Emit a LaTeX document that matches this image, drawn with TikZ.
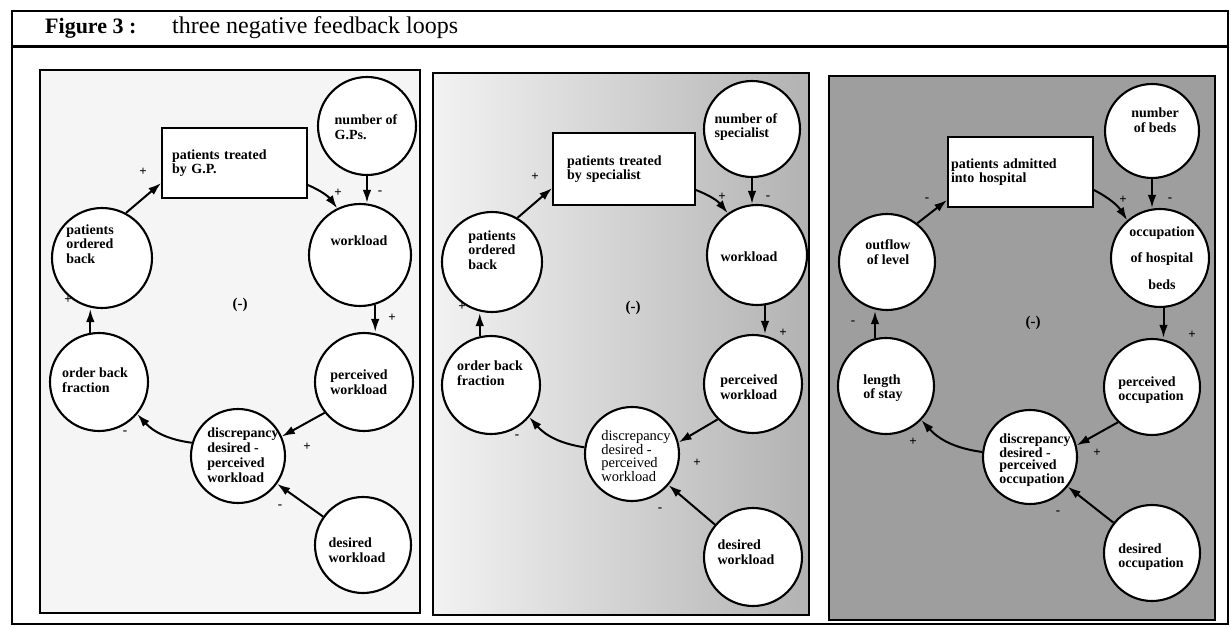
\documentclass[tikz,border=0pt]{standalone}
\usepackage{fontspec}
\setmainfont{Liberation Serif}
\usetikzlibrary{arrows.meta,calc}

\tikzset{
  fbcircle/.style={circle, draw, line width=2.1pt, fill=white, inner sep=0pt},
  fbtext/.style={inner sep=0pt, font=\bfseries\fontsize{14}{14.5}\selectfont},
  fbbox/.style={rectangle, draw, line width=1.7pt, fill=white,
    minimum width=145pt, minimum height=70pt, inner xsep=10pt, inner ysep=0pt,
    text width=125pt, align=left, font=\bfseries\fontsize{14}{14.5}\selectfont},
  link/.style={line width=2pt, -{Latex[length=13pt,width=8.5pt]}},
  sgn/.style={inner sep=0pt, font=\bfseries\fontsize{13}{13}\selectfont},
  panelframe/.style={draw, line width=1.8pt},
}

% circle variable: name, centre x, centre y, radius, text x, text y, alignment, text
\newcommand\fbnode[8]{%
  \node[fbcircle, minimum size=#4*2pt] (#1) at (#2,#3) {};
  \node[fbtext, align=#7] (#1-t) at (#5,#6) {#8};
}

\begin{document}
\begin{tikzpicture}[x=1pt,y=-1pt]
\useasboundingbox (0,0) rectangle (1231,628);

% ---- panel backgrounds ----
\fill[black!4] (40,70) rectangle (420,613);
\shade[left color=black!5, right color=black!30] (433,73) rectangle (809,615);
\fill[black!38] (829,76) rectangle (1215,620);
\draw[panelframe] (40,70) rectangle (420,613);
\draw[panelframe] (433,73) rectangle (809,615);
\draw[panelframe] (829,76) rectangle (1215,620);

% ---- outer frame and title ----
\draw[line width=2.5pt] (12,11) rectangle (1228,624);
\draw[line width=3pt] (12,47) -- (1228,47);
\node[anchor=base west, inner sep=0pt, font=\bfseries\fontsize{22}{22}\selectfont] (fig) at (45,34) {Figure 3 :};
\node[anchor=base west, inner sep=0pt, font=\fontsize{24}{24}\selectfont] (cap) at (172,34) {three negative feedback loops};

% ================= loop 1: general practitioner =================
\fbnode{gp}{367}{126}{49}{366}{127}{left}{number of\\G.Ps.}
\node[fbbox] (tr1) at (234.5,163) {patients treated\\by G.P.};
\fbnode{wl1}{360}{255}{51}{359}{241}{left}{workload}
\fbnode{pob1}{102}{258}{50}{90}{244}{left}{patients\\ordered\\back}
\fbnode{obf1}{99}{382}{49}{95}{380}{left}{order back\\fraction}
\fbnode{pw1}{364}{382}{49}{359}{382}{left}{perceived\\workload}
\node[fbcircle, minimum size=94pt] (ds1) at (238,456) {};
\node[fbtext, align=left, font=\bfseries\fontsize{14}{15}\selectfont] (ds1-t) at (243,455) {discrepancy\\desired -\\perceived\\workload};
\fbnode{dw1}{363}{545}{48}{357}{550}{left}{desired\\workload}
\node[fbtext, font=\bfseries\fontsize{15}{15}\selectfont] (neg1) at (240,305) {(-)};

\draw[link] (pob1.62) -- ([yshift=-20pt]tr1.west);
\draw[link] ([yshift=-22pt]tr1.east) to[bend left=15] (wl1.116);
\draw[link] (gp.south) -- (gp.south |- wl1.north);
\draw[link] (wl1.287) -- (wl1.287 |- pw1.north);
\draw[link] (pw1.218) -- (ds1.24);
\draw[link] (dw1) -- (ds1);
\draw[link] (ds1.164) to[bend left=20] (obf1.320);
\draw[link] (obf1.100) -- (obf1.100 |- pob1.south);

\node[sgn] (s11) at (143,172) {+};
\node[sgn] (s12) at (338,193) {+};
\node[sgn] (s13) at (380,193) {-};
\node[sgn] (s14) at (392,318) {+};
\node[sgn] (s15) at (68,300) {+};
\node[sgn] (s16) at (125,433) {-};
\node[sgn] (s17) at (307,447) {+};
\node[sgn] (s18) at (280,507) {-};

% ================= loop 2: specialist =================
\fbnode{sp}{752}{129}{48}{746}{127}{left}{number of\\specialist}
\node[fbbox, minimum width=142pt, minimum height=72pt, inner xsep=14pt, text width=114pt] (tr2) at (624,169) {patients treated\\by specialist};
\fbnode{wl2}{757}{255}{50}{749}{257}{left}{workload}
\fbnode{pob2}{492}{262}{50}{492}{250}{left}{patients\\ordered\\back}
\fbnode{obf2}{491}{385}{49}{490}{373}{left}{order back\\fraction}
\fbnode{pw2}{753}{384}{49}{749}{387}{left}{perceived\\workload}
\node[fbcircle, minimum size=94pt] (ds2) at (632,454) {};
\node[fbtext, align=left, font=\fontsize{14.5}{13}\selectfont] (ds2-t) at (636,456) {discrepancy\\desired -\\perceived\\workload};
\fbnode{dw2}{753}{557}{49}{746}{552}{left}{desired\\workload}
\node[fbtext, font=\bfseries\fontsize{15}{15}\selectfont] (neg2) at (633,308) {(-)};

\draw[link] (pob2.60) -- ([yshift=-19pt]tr2.west);
\draw[link] ([yshift=-21pt]tr2.east) to[bend left=15] (wl2.125);
\draw[link] (sp.south) -- (sp.south |- wl2.north);
\draw[link] (wl2.279) -- (wl2.279 |- pw2.north);
\draw[link] (pw2.225) -- (ds2.14);
\draw[link] (dw2) -- (ds2);
\draw[link] (ds2.172) to[bend left=20] (obf2.320);
\draw[link] (obf2.103) -- (obf2.103 |- pob2.south);

\node[sgn] (s21) at (535,177) {+};
\node[sgn] (s22) at (722,197) {+};
\node[sgn] (s23) at (768,198) {-};
\node[sgn] (s24) at (783,333) {+};
\node[sgn] (s25) at (462,307) {+};
\node[sgn] (s26) at (517,437) {-};
\node[sgn] (s27) at (697,463) {+};
\node[sgn] (s28) at (660,510) {-};

% ================= loop 3: hospital =================
\fbnode{nb}{1152}{131}{47}{1155}{120}{center}{number\\of beds}
\node[fbbox, inner xsep=3pt, text width=139pt] (tr3) at (1020.5,172) {patients admitted\\into hospital};
\fbnode{oc}{1160}{258}{49}{1162}{258}{center}{occupation\\[12pt]of hospital\\[12pt]beds}
\fbnode{ol}{887}{262}{48}{888}{252}{center}{outflow\\of level}
\fbnode{ls}{886}{386}{48}{883}{388}{left}{length\\of stay}
\fbnode{po}{1152}{387}{48}{1151}{390}{left}{perceived\\occupation}
\node[fbcircle, minimum size=94pt] (ds3) at (1030,457) {};
\node[fbtext, align=left, font=\bfseries\fontsize{14}{12.5}\selectfont] (ds3-t) at (1035,460) {discrepancy\\desired -\\perceived\\occupation};
\fbnode{do}{1152}{553}{48}{1151}{557}{left}{desired\\occupation}
\node[fbtext, font=\bfseries\fontsize{15}{15}\selectfont] (neg3) at (1033,323) {(-)};

\draw[link] (ol.52) -- ([yshift=-28pt]tr3.west);
\draw[link] ([yshift=-18pt]tr3.east) to[bend left=15] (oc.131);
\draw[link] (nb.south) -- (nb.south |- oc.north);
\draw[link] (oc.274) -- (oc.274 |- po.north);
\draw[link] (po.226) -- (ds3.14);
\draw[link] (do) -- (ds3);
\draw[link] (ds3.174) to[bend left=20] (ls.316);
\draw[link] (ls.103) -- (ls.103 |- ol.south);

\node[sgn] (s31) at (927,200) {-};
\node[sgn] (s32) at (1123,200) {+};
\node[sgn] (s33) at (1170,200) {-};
\node[sgn] (s34) at (853,323) {-};
\node[sgn] (s35) at (1192,335) {+};
\node[sgn] (s36) at (913,442) {+};
\node[sgn] (s37) at (1097,453) {+};
\node[sgn] (s38) at (1058,513) {-};
\end{tikzpicture}
\end{document}
